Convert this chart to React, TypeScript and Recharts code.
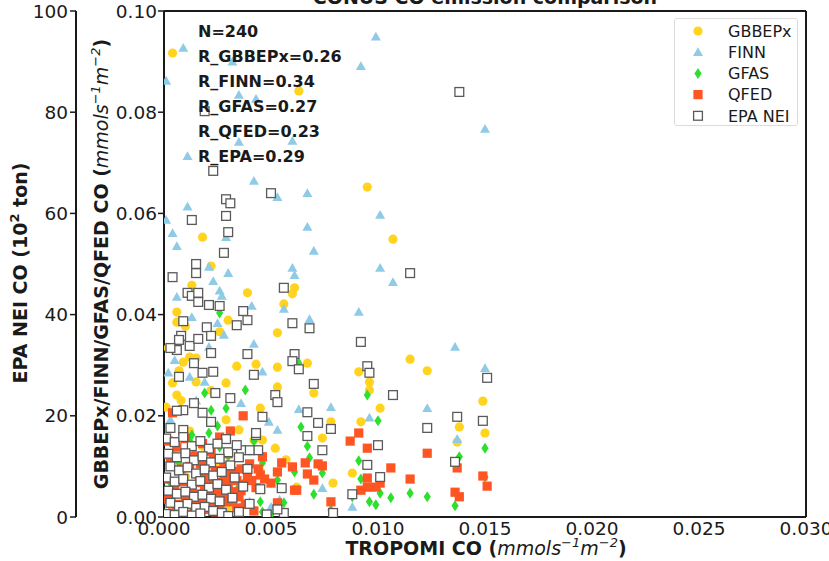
import React from "react";
import { ScatterChart, Scatter, XAxis, YAxis, ReferenceLine, Legend } from "recharts";

const xTicks = [0, 0.005, 0.01, 0.015, 0.02, 0.025, 0.03];
const coTicks = [0, 0.02, 0.04, 0.06, 0.08, 0.1];
const epaTicks = [0, 20, 40, 60, 80, 100];

const seriesNames = ["GBBEPx", "FINN", "GFAS", "QFED", "EPA NEI"];
const statLines = ["N=240", "R_GBBEPx=0.26", "R_FINN=0.34", "R_GFAS=0.27", "R_QFED=0.23", "R_EPA=0.29"];

// [TROPOMI CO, emission] in mmol s-1 m-2
const gbbepx = [
  [0.0004, 0.0917], [0.0063, 0.0842], [0.0095, 0.0652], [0.0107, 0.0549], [0.0018, 0.0553],
  [0.0022, 0.0496], [0.0013, 0.0458], [0.0039, 0.0443], [0.0061, 0.0453], [0.006, 0.0441],
  [0.0056, 0.0421], [0.0006, 0.0405], [0.0006, 0.0385], [0.001, 0.0377], [0.003, 0.0389],
  [0.0053, 0.0364], [0.0026, 0.0366], [0.0068, 0.0373], [0.0034, 0.0298], [0.0043, 0.0302],
  [0.0053, 0.0296], [0.0067, 0.0304], [0.0091, 0.0287], [0.0007, 0.0289], [0.0015, 0.0314],
  [0.0002, 0.0334], [0.0009, 0.0306], [0.0004, 0.0265], [0.0015, 0.0267], [0.0029, 0.0265],
  [0.0053, 0.0257], [0.007, 0.0245], [0.0006, 0.0241], [0.0001, 0.0217], [0.0045, 0.0215],
  [0.0029, 0.0192], [0.0078, 0.0188], [0.0042, 0.0152], [0.0046, 0.0152], [0.0052, 0.0136],
  [0.0074, 0.0156], [0.0057, 0.0113], [0.0079, 0.0067], [0.0062, 0.0059], [0.0012, 0.0316],
  [0.0009, 0.0211], [0.0028, 0.0059], [0.0035, 0.0172], [0.0115, 0.0312], [0.0123, 0.0289],
  [0.0096, 0.0267], [0.0096, 0.0251], [0.0101, 0.0215], [0.0092, 0.0188], [0.0149, 0.0229],
  [0.0138, 0.0178], [0.015, 0.0166], [0.0137, 0.0148], [0.0088, 0.0087], [0.001, 0.008],
  [0.002, 0.006], [0.0035, 0.004], [0.0025, 0.011], [0.004, 0.013], [0.0045, 0.009],
  [0.0005, 0.012], [0.003, 0.002], [0.0003, 0.018], [0.0018, 0.014], [0.0008, 0.023],
  [0.0022, 0.025], [0.0012, 0.017],
];

const finn = [
  [0.0009, 0.0927], [0.0001, 0.0862], [0.0032, 0.09], [0.0035, 0.0834], [0.0043, 0.0826],
  [0.0035, 0.0741], [0.006, 0.0743], [0.0011, 0.0713], [0.0042, 0.0664], [0.0067, 0.064],
  [0.0053, 0.0632], [0.0099, 0.0949], [0.0092, 0.0891], [0.015, 0.0767], [0.0011, 0.0613],
  [0.0001, 0.0587], [0.0004, 0.0561], [0.0006, 0.0535], [0.0029, 0.0553], [0.0067, 0.0573],
  [0.007, 0.0526], [0.0021, 0.0494], [0.003, 0.0482], [0.0023, 0.0466], [0.006, 0.0492],
  [0.0061, 0.0478], [0.0026, 0.0447], [0.0027, 0.0437], [0.0006, 0.0435], [0.0041, 0.0417],
  [0.0056, 0.0411], [0.0013, 0.0395], [0.0025, 0.0383], [0.0068, 0.0391], [0.0028, 0.036],
  [0.0101, 0.0597], [0.0101, 0.0492], [0.0107, 0.0464], [0.0091, 0.0405], [0.0042, 0.0342],
  [0.0021, 0.0336], [0.0046, 0.0287], [0.0002, 0.0285], [0.0012, 0.0277], [0.0019, 0.0267],
  [0.0063, 0.0213], [0.0078, 0.0217], [0.0036, 0.0225], [0.0049, 0.0188], [0.0053, 0.0172],
  [0.0003, 0.0192], [0.0074, 0.0057], [0.0007, 0.0089], [0.0054, 0.0034], [0.0136, 0.0336],
  [0.015, 0.0294], [0.0123, 0.0215], [0.0096, 0.0196], [0.0137, 0.0154], [0.0088, 0.002],
  [0.0008, 0.0012], [0.0028, 0.0018], [0.004, 0.003], [0.005, 0.002], [0.0015, 0.023],
  [0.0005, 0.031],
];

const gfas = [
  [0.0026, 0.0403], [0.0063, 0.0304], [0.0019, 0.0245], [0.0038, 0.0251], [0.0022, 0.0211],
  [0.0029, 0.0215], [0.0021, 0.0166], [0.0013, 0.0162], [0.0064, 0.0178], [0.0067, 0.014],
  [0.0068, 0.0117], [0.0061, 0.0089], [0.0074, 0.0087], [0.007, 0.0045], [0.0046, 0.0107],
  [0.0053, 0.0073], [0.0039, 0.0073], [0.0056, 0.0028], [0.0046, 0.001], [0.0034, 0.0089],
  [0.0026, 0.0138], [0.0014, 0.0126], [0.0007, 0.0107], [0.0003, 0.0067], [0.0024, 0.0073],
  [0.0031, 0.004], [0.0078, 0.0014], [0.0095, 0.0241], [0.01, 0.019], [0.0091, 0.0111],
  [0.0092, 0.0075], [0.0096, 0.003], [0.0099, 0.0024], [0.0101, 0.0047], [0.0106, 0.0038],
  [0.0115, 0.0047], [0.0123, 0.004], [0.015, 0.0136], [0.0138, 0.0119], [0.015, 0.0079],
  [0.0136, 0.0022], [0.0088, 0.004], [0.0005, 0.002], [0.0015, 0.004], [0.002, 0.008],
  [0.0035, 0.006], [0.0045, 0.003], [0.003, 0.012], [0.0025, 0.018], [0.0012, 0.015],
  [0.0042, 0.015], [0.005, 0.0005],
];

const qfed = [
  [0.0037, 0.02], [0.0004, 0.0206], [0.0031, 0.017], [0.0046, 0.0119], [0.0055, 0.0107],
  [0.006, 0.0099], [0.0066, 0.0107], [0.0072, 0.0105], [0.0053, 0.0089], [0.0045, 0.0083],
  [0.005, 0.0067], [0.0067, 0.0085], [0.007, 0.0073], [0.0062, 0.0053], [0.0078, 0.003],
  [0.0053, 0.0028], [0.0035, 0.004], [0.0087, 0.015], [0.0091, 0.0166], [0.0095, 0.0136],
  [0.0106, 0.0097], [0.0115, 0.0075], [0.0061, 0.0053], [0.0074, 0.0101], [0.0123, 0.0126],
  [0.0095, 0.0077], [0.0101, 0.0067], [0.0092, 0.0053], [0.0095, 0.0059], [0.0099, 0.0059],
  [0.0137, 0.0097], [0.0136, 0.0049], [0.0138, 0.004], [0.0149, 0.0081], [0.0151, 0.0061],
  [0.004, 0.0105], [0.0033, 0.009], [0.0002, 0.015], [0.0006, 0.0138], [0.001, 0.0155],
  [0.0014, 0.012], [0.0018, 0.0145], [0.0022, 0.013], [0.0026, 0.0158], [0.003, 0.0125],
  [0.0003, 0.011], [0.0008, 0.0095], [0.0012, 0.01], [0.0016, 0.0085], [0.002, 0.0105],
  [0.0024, 0.0092], [0.0028, 0.01], [0.0032, 0.0078], [0.0036, 0.0095], [0.0001, 0.0075],
  [0.0005, 0.006], [0.0009, 0.007], [0.0013, 0.0055], [0.0017, 0.0068], [0.0019, 0.005],
  [0.0021, 0.0072], [0.0023, 0.0045], [0.0025, 0.0062], [0.0027, 0.0038], [0.0029, 0.0058],
  [0.0033, 0.005], [0.0037, 0.0065], [0.0041, 0.0072], [0.0002, 0.0035], [0.0006, 0.0025],
  [0.001, 0.004], [0.0014, 0.002], [0.0018, 0.003], [0.002, 0.0015], [0.0022, 0.0028],
  [0.0024, 0.001], [0.0026, 0.0022], [0.003, 0.003], [0.0034, 0.0018], [0.0038, 0.0025],
  [0.0042, 0.0012], [0.0004, 0.0008], [0.0012, 0.0005], [0.0016, 0.0045], [0.0019, 0.0088],
  [0.0023, 0.0115], [0.0028, 0.0078], [0.0015, 0.0035], [0.0021, 0.004], [0.0019, 0.0062],
  [0.0021, 0.0082], [0.0024, 0.0052], [0.0026, 0.0068], [0.0028, 0.0045], [0.003, 0.0065],
  [0.0032, 0.0035], [0.0034, 0.0072], [0.0036, 0.0052], [0.0039, 0.0082], [0.0043, 0.0058],
  [0.0044, 0.0095], [0.0047, 0.0075], [0.0031, 0.0095], [0.0017, 0.0105],
];

// [TROPOMI CO, EPA NEI CO in 10^2 ton]
const epaNei = [
  [0.0023, 68.4], [0.0019, 80.2], [0.005, 64.0], [0.0029, 62.8], [0.0138, 84.0],
  [0.0031, 62.0], [0.0013, 58.7], [0.0029, 59.5], [0.003, 56.3], [0.0028, 52.2],
  [0.0015, 50.0], [0.0015, 48.2], [0.0004, 47.4], [0.0056, 45.3], [0.0011, 44.3],
  [0.0013, 43.7], [0.0016, 44.3], [0.0016, 42.5], [0.0021, 41.9], [0.0026, 41.7],
  [0.0037, 40.7], [0.0039, 38.9], [0.0034, 37.9], [0.006, 38.3], [0.0068, 37.3],
  [0.0009, 38.7], [0.002, 37.5], [0.0008, 35.8], [0.0022, 35.8], [0.0115, 48.2],
  [0.0092, 34.6], [0.0095, 29.8], [0.0096, 28.5], [0.0061, 32.2], [0.006, 30.8],
  [0.0063, 29.2], [0.0039, 32.2], [0.0042, 28.1], [0.0023, 28.7], [0.0014, 30.4],
  [0.0012, 33.8], [0.0007, 35.0], [0.0006, 33.0], [0.0003, 33.4], [0.0016, 35.2],
  [0.0022, 32.4], [0.0018, 28.5], [0.0007, 27.7], [0.007, 26.3], [0.0024, 24.5],
  [0.0052, 24.1], [0.0053, 22.7], [0.0031, 23.5], [0.0014, 22.5], [0.0018, 20.6],
  [0.0009, 21.1], [0.0006, 21.0], [0.0067, 20.7], [0.0072, 18.6], [0.0078, 17.4],
  [0.0022, 18.8], [0.0003, 17.6], [0.0009, 17.2], [0.0043, 16.2], [0.0067, 16.0],
  [0.0029, 15.4], [0.0074, 13.2], [0.0044, 13.2], [0.004, 13.2], [0.0036, 13.2],
  [0.0107, 24.1], [0.0151, 27.5], [0.0137, 19.8], [0.0149, 19.0], [0.0123, 17.6],
  [0.01, 14.2], [0.0136, 10.9], [0.0095, 10.3], [0.0101, 7.9], [0.0088, 4.5],
  [0.0079, 0.8], [0.0055, 5.7], [0.0056, 0.8], [0.0046, 19.8], [0.0043, 16.6],
  [0.0001, 15.5], [0.0005, 14.8], [0.0009, 15.8], [0.0013, 14.0], [0.0017, 15.0],
  [0.0021, 13.5], [0.0025, 14.5], [0.003, 12.8], [0.0034, 14.2], [0.0002, 12.5],
  [0.0006, 11.8], [0.001, 12.6], [0.0014, 11.2], [0.0018, 12.0], [0.0022, 10.8],
  [0.0026, 11.5], [0.0031, 10.2], [0.0035, 11.8], [0.0039, 9.5], [0.0003, 10.0],
  [0.0007, 9.2], [0.0011, 9.8], [0.0015, 8.6], [0.0019, 9.4], [0.0023, 8.2],
  [0.0027, 8.9], [0.0033, 7.8], [0.0001, 7.8], [0.0005, 7.0], [0.0009, 7.5],
  [0.0013, 6.4], [0.0017, 7.1], [0.0021, 5.8], [0.0025, 6.5], [0.0029, 5.4],
  [0.0037, 6.0], [0.0045, 5.5], [0.0002, 5.2], [0.0006, 4.6], [0.001, 5.0],
  [0.0014, 4.0], [0.0018, 4.4], [0.0022, 3.6], [0.0026, 3.1], [0.0032, 3.8],
  [0.004, 2.6], [0.0003, 2.8], [0.0007, 2.2], [0.0011, 2.6], [0.0015, 1.8],
  [0.0019, 2.0], [0.0023, 1.2], [0.0027, 0.8], [0.0035, 1.0], [0.0001, 0.6],
  [0.0005, 0.4], [0.0009, 1.0], [0.0013, 0.3], [0.0017, 0.7], [0.003, 0.2],
  [0.0048, 0.5], [0.0053, 1.5],
];

const FONT = "DejaVu Sans";
const INK = "#1a1a1a";
const colors: Record<string, string> = {
  GBBEPx: "#FFD31E",
  FINN: "#8FCBE6",
  GFAS: "#2EE02E",
  QFED: "#FF5522",
  "EPA NEI": "#5a5a5a",
};

const toPoints = (arr: number[][]) => arr.map(([x, y]) => ({ x, y }));

const drawMarker = (name: string, cx: number, cy: number) => {
  switch (name) {
    case "GBBEPx":
      return <circle cx={cx} cy={cy} r={4.6} fill={colors.GBBEPx} />;
    case "FINN":
      return <polygon points={`${cx},${cy - 5} ${cx + 5},${cy + 3.8} ${cx - 5},${cy + 3.8}`} fill={colors.FINN} />;
    case "GFAS":
      return <polygon points={`${cx},${cy - 5.5} ${cx + 3.6},${cy} ${cx},${cy + 5.5} ${cx - 3.6},${cy}`} fill={colors.GFAS} />;
    case "QFED":
      return <rect x={cx - 4.6} y={cy - 4.6} width={9.2} height={9.2} fill={colors.QFED} />;
    default:
      return <rect x={cx - 4.4} y={cy - 4.4} width={8.8} height={8.8} fill="#fff" stroke={colors["EPA NEI"]} strokeWidth={1.3} />;
  }
};

const shapeFor = (name: string) => (p: any) => drawMarker(name, p.cx, p.cy);

const LegendBox = () => (
  <div
    style={{
      width: 124,
      height: 108,
      boxSizing: "border-box",
      background: "#fff",
      border: "1px solid #dcdcdc",
      borderRadius: 3,
      position: "relative",
    }}
  >
    <svg width={124} height={108} style={{ position: "absolute", left: 0, top: 0 }}>
      {seriesNames.map((n, i) => (
        <g key={n}>
          {drawMarker(n, 23, 12 + i * 21.2)}
          <text x={53} y={12 + i * 21.2} dy="0.36em" fontFamily={FONT} fontSize={16} fill={INK}>
            {n}
          </text>
        </g>
      ))}
    </svg>
  </div>
);

const unitTspans = (sz: number) => [
  <tspan key="a" fontStyle="italic" fontWeight="normal">mmols</tspan>,
  <tspan key="b" fontStyle="italic" fontWeight="normal" fontSize={sz} dy={-8}>−1</tspan>,
  <tspan key="c" fontStyle="italic" fontWeight="normal" dy={8}>m</tspan>,
  <tspan key="d" fontStyle="italic" fontWeight="normal" fontSize={sz} dy={-8}>−2</tspan>,
  <tspan key="e" dy={8}>)</tspan>,
];

export default function App() {
  return (
    <div style={{ position: "absolute", left: 0, top: 0, width: 829, height: 561, background: "#fff" }}>
      <ScatterChart width={829} height={561} margin={{ top: 11, right: 23, bottom: 0, left: 0 }}>
        <XAxis
          type="number"
          dataKey="x"
          domain={[0, 0.03]}
          ticks={xTicks}
          tickFormatter={(v: number) => v.toFixed(3)}
          height={44}
          tickSize={3}
          tickMargin={2}
          tickLine={false}
          axisLine={{ stroke: INK, strokeWidth: 2 }}
          tick={{ fontFamily: FONT, fontSize: 18.5, fill: INK }}
          allowDataOverflow
        />
        <YAxis
          yAxisId="co"
          type="number"
          dataKey="y"
          domain={[0, 0.1]}
          ticks={coTicks}
          tickFormatter={(v: number) => v.toFixed(2)}
          width={88}
          tickSize={6}
          tickMargin={1}
          tickLine={{ stroke: INK, strokeWidth: 1.5 }}
          axisLine={{ stroke: INK, strokeWidth: 2 }}
          tick={{ fontFamily: FONT, fontSize: 18.5, fill: INK }}
          allowDataOverflow
        />
        <YAxis
          yAxisId="epa"
          type="number"
          dataKey="y"
          domain={[0, 100]}
          ticks={epaTicks}
          width={76}
          tickSize={6}
          tickMargin={2}
          tickLine={{ stroke: INK, strokeWidth: 1.5 }}
          axisLine={{ stroke: INK, strokeWidth: 2 }}
          tick={{ fontFamily: FONT, fontSize: 18.5, fill: INK }}
          allowDataOverflow
        />
        <ReferenceLine yAxisId="co" y={0.1} stroke={INK} strokeWidth={2} />
        <ReferenceLine yAxisId="co" x={0.03} stroke={INK} strokeWidth={2} />
        <Scatter name="GBBEPx" yAxisId="co" data={toPoints(gbbepx)} fill={colors.GBBEPx} shape={shapeFor("GBBEPx")} isAnimationActive={false} />
        <Scatter name="FINN" yAxisId="co" data={toPoints(finn)} fill={colors.FINN} shape={shapeFor("FINN")} isAnimationActive={false} />
        <Scatter name="GFAS" yAxisId="co" data={toPoints(gfas)} fill={colors.GFAS} shape={shapeFor("GFAS")} isAnimationActive={false} />
        <Scatter name="QFED" yAxisId="co" data={toPoints(qfed)} fill={colors.QFED} shape={shapeFor("QFED")} isAnimationActive={false} />
        <Scatter name="EPA NEI" yAxisId="epa" data={toPoints(epaNei)} fill="#fff" shape={shapeFor("EPA NEI")} isAnimationActive={false} />
        <Legend
          layout="vertical"
          align="center"
          verticalAlign="middle"
          content={() => <LegendBox />}
          wrapperStyle={{ position: "absolute", left: 674, top: 18, width: 124, height: 108 }}
        />
      </ScatterChart>
      <svg
        width={829}
        height={561}
        style={{ position: "absolute", left: 0, top: 0, pointerEvents: "none" }}
        fontFamily={FONT}
        fill={INK}
      >
        <text x={485} y={4} textAnchor="middle" fontSize={19} fontWeight="bold">
          CONUS CO emission comparison
        </text>
        {statLines.map((s, i) => (
          <text key={s} x={198} y={37 + i * 25} fontSize={16} fontWeight="bold">
            {s}
          </text>
        ))}
        <text x={486} y={555} textAnchor="middle" fontSize={19} fontWeight="bold">
          TROPOMI CO ({unitTspans(13)}
        </text>
        <text x={108} y={264} textAnchor="middle" fontSize={19} fontWeight="bold" transform="rotate(-90 108 264)">
          GBBEPx/FINN/GFAS/QFED CO ({unitTspans(13)}
        </text>
        <text x={27} y={273} textAnchor="middle" fontSize={19} fontWeight="bold" transform="rotate(-90 27 273)">
          EPA NEI CO (10
          <tspan fontSize={13} dy={-8}>2</tspan>
          <tspan dy={8}> ton)</tspan>
        </text>
      </svg>
    </div>
  );
}
